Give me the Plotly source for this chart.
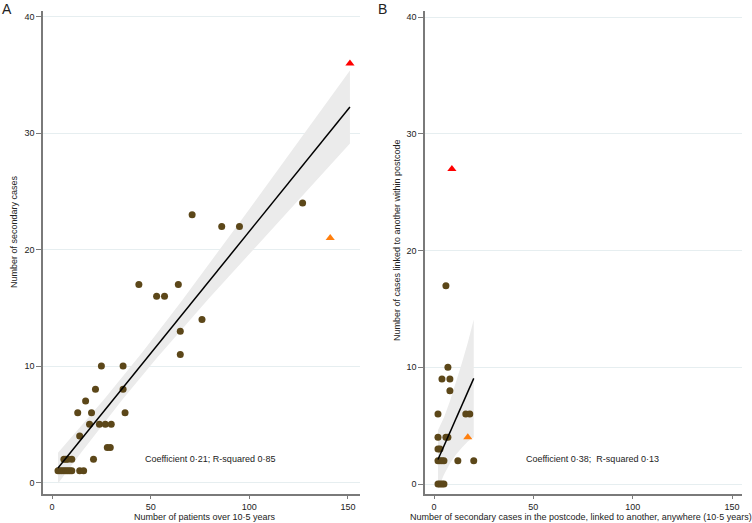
import numpy as np
import plotly.graph_objects as go

W, H = 752, 523

# Panel A: patients over 10·5 years vs secondary cases
a_x = [3, 4, 5, 6, 7, 8, 9, 10, 14, 16,
       6, 7, 8, 10, 21,
       28, 29.5,
       14,
       19, 24, 27, 30,
       13, 20, 37,
       17,
       22, 36,
       25, 36,
       65, 65, 76, 53, 57, 44, 64,
       86, 95, 71, 127]
a_y = [1, 1, 1, 1, 1, 1, 1, 1, 1, 1,
       2, 2, 2, 2, 2,
       3, 3,
       4,
       5, 5, 5, 5,
       6, 6, 6,
       7,
       8, 8,
       10, 10,
       11, 13, 14, 16, 16, 17, 17,
       22, 22, 23, 24]
a_orange_x = [141]
a_orange_y = [21]
a_red_x = [151]
a_red_y = [36]

# Panel B: secondary cases linked anywhere vs linked within postcode
b_x = [2, 3, 4, 5,
       2, 3, 4, 5, 12, 20,
       2, 3,
       2, 6, 7,
       2, 16, 18,
       8,
       4, 8,
       7,
       6]
b_y = [0, 0, 0, 0,
       2, 2, 2, 2, 2, 2,
       3, 3,
       4, 4, 4,
       6, 6, 6,
       8,
       9, 9,
       10,
       17]
b_orange_x = [17]
b_orange_y = [4]
b_red_x = [9]
b_red_y = [27]

# Panel B fitted line and confidence band
b_fit_x = [2, 5, 8, 11, 14, 17, 20]
b_fit_y = [2.1, 3.25, 4.4, 5.55, 6.7, 7.9, 9.05]
b_band_hi = [4.6, 5.7, 7.1, 8.65, 10.35, 12.1, 14.1]
b_band_lo = [-0.4, 0.8, 1.75, 2.5, 3.1, 3.65, 4.0]

DOT = "#5c4719"
ORANGE = "#ff7f0e"
RED = "#ff0000"
BAND = "#ebebeb"
AXIS = "#7a7a7a"
TXT = "#222222"


def fit(x, y):
    x = np.asarray(x, float)
    y = np.asarray(y, float)
    n = len(x)
    b, a = np.polyfit(x, y, 1)
    yhat = a + b * x
    ss_res = np.sum((y - yhat) ** 2)
    s = np.sqrt(ss_res / (n - 2))
    sxx = np.sum((x - x.mean()) ** 2)
    g = np.linspace(x.min(), x.max(), 100)
    gy = a + b * g
    t = 1.96 + 2.4 / (n - 2)
    se = s * np.sqrt(1 / n + (g - x.mean()) ** 2 / sxx)
    return list(g), list(gy), list(gy - t * se), list(gy + t * se)


fa = fit(a_x + a_orange_x + a_red_x, a_y + a_orange_y + a_red_y)
fb = (b_fit_x, b_fit_y, b_band_lo, b_band_hi)

fig = go.Figure()


def add_panel(f, xs, ys, ox, oy, rx, ry, xa, ya):
    g, gy, lo, hi = f
    fig.add_trace(go.Scatter(x=list(g) + list(g)[::-1], y=list(hi) + list(lo)[::-1],
                             fill="toself", fillcolor=BAND, line=dict(width=0),
                             mode="lines", hoverinfo="skip", xaxis=xa, yaxis=ya))
    fig.add_trace(go.Scatter(x=xs, y=ys, mode="markers",
                             marker=dict(symbol="circle", size=7, color=DOT, line=dict(width=0)),
                             xaxis=xa, yaxis=ya))
    fig.add_trace(go.Scatter(x=g, y=gy, mode="lines", line=dict(color="black", width=1.5),
                             xaxis=xa, yaxis=ya))
    fig.add_trace(go.Scatter(x=ox, y=oy, mode="markers",
                             marker=dict(symbol="triangle-up", size=8, color=ORANGE, line=dict(width=0)),
                             xaxis=xa, yaxis=ya))
    fig.add_trace(go.Scatter(x=rx, y=ry, mode="markers",
                             marker=dict(symbol="triangle-up", size=8, color=RED, line=dict(width=0)),
                             xaxis=xa, yaxis=ya))


add_panel(fa, a_x, a_y, a_orange_x, a_orange_y, a_red_x, a_red_y, "x", "y")
add_panel(fb, b_x, b_y, b_orange_x, b_orange_y, b_red_x, b_red_y, "x2", "y2")

ydom = [(H - 493.5) / H, (H - 11) / H]
common_x = dict(showline=True, linecolor=AXIS, linewidth=1.5, ticks="outside", ticklen=4,
                tickcolor=AXIS, tickwidth=1, tickvals=[0, 50, 100, 150], showgrid=False,
                zeroline=False, tickfont=dict(size=9, color=TXT), automargin=False)
common_y = dict(showline=True, linecolor=AXIS, linewidth=1.5, ticks="outside", ticklen=5,
                tickcolor=AXIS, tickwidth=1, tickvals=[0, 10, 20, 30, 40], showgrid=True,
                gridcolor="#e6eef0", gridwidth=1, zeroline=False,
                tickfont=dict(size=9, color=TXT), automargin=False, domain=ydom)

fig.update_layout(
    width=W, height=H, margin=dict(l=0, r=0, t=0, b=0),
    paper_bgcolor="white", plot_bgcolor="white", showlegend=False,
    font=dict(family="Liberation Sans, Arial, sans-serif", size=9, color=TXT),
    xaxis=dict(domain=[43 / W, 360 / W], range=[-4.6, 156.1], anchor="y", **common_x),
    yaxis=dict(range=[-0.945, 40.5], anchor="x", **common_y),
    xaxis2=dict(domain=[425 / W, 742 / W], range=[-4.53, 155.0], anchor="y2", **common_x),
    yaxis2=dict(range=[-0.81, 40.53], anchor="x2", **common_y),
)


def ann(text, x, y, size=9, angle=0):
    fig.add_annotation(text=text, x=x / W, y=1 - y / H, xref="paper", yref="paper",
                       showarrow=False, font=dict(size=size, color=TXT), textangle=angle,
                       xanchor="center", yanchor="middle")


ann("A", 7, 9, size=14)
ann("B", 382, 9, size=14)
ann("Number of secondary cases", 14, 232, angle=-90)
ann("Number of cases linked to another within postcode", 397, 240, angle=-90)
ann("Number of patients over 10·5 years", 205, 517)
ann("Number of secondary cases in the postcode, linked to another, anywhere (10·5 years)", 581, 517)
ann("Coefficient 0·21; R-squared 0·85", 210, 459)
ann("Coefficient 0·38;  R-squared 0·13", 592, 459)

fig.write_html("out.html", config={"displayModeBar": False},
               post_script="document.body.style.margin='0px';document.body.style.overflow='hidden';")
